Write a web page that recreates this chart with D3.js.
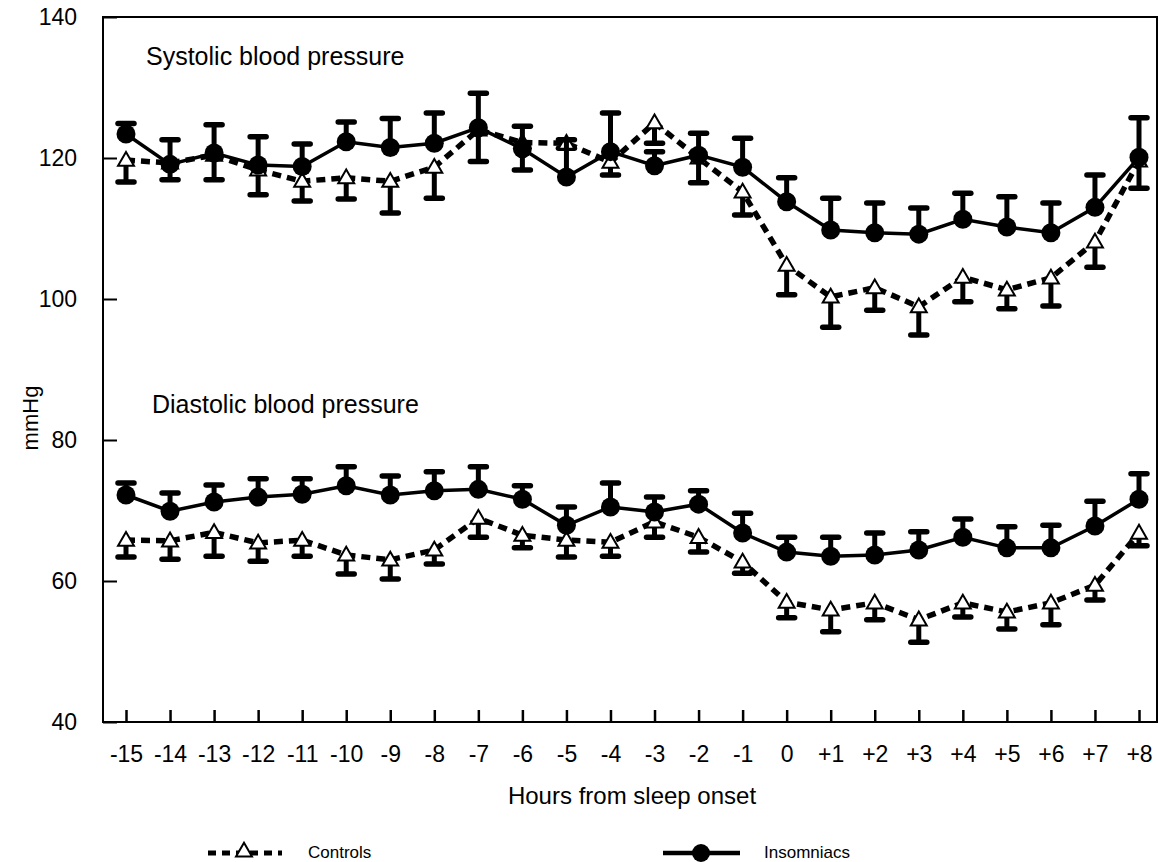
<!DOCTYPE html>
<html>
<head>
<meta charset="utf-8">
<script src="https://cdn.jsdelivr.net/npm/d3@7"></script>
<style>
  body { margin: 0; background: #fff; }
  svg { font-family: Arial, "Liberation Sans", sans-serif; }
</style>
</head>
<body>
<svg id="chart" width="1166" height="862"></svg>
<script>
// hours from sleep onset
var hours = [-15, -14, -13, -12, -11, -10, -9, -8, -7, -6, -5, -4, -3, -2, -1, 0, 1, 2, 3, 4, 5, 6, 7, 8];
var yTicks = [40, 60, 80, 100, 120, 140];

// systolic, insomniacs (mean, SE drawn upward)
var sysInsomniacs = [123.4, 119.1, 120.7, 119.0, 118.8, 122.3, 121.5, 122.1, 124.3, 121.3, 117.3, 120.9, 118.9, 120.4, 118.7, 113.8, 109.8, 109.4, 109.2, 111.3, 110.2, 109.4, 113.0, 120.1];
var sysInsomniacsSE = [1.5, 3.5, 4.0, 4.0, 3.2, 2.8, 4.1, 4.3, 4.9, 3.2, 5.3, 5.5, 2.0, 3.1, 4.1, 3.4, 4.5, 4.2, 3.7, 3.7, 4.3, 4.2, 4.6, 5.6];
// systolic, controls (mean, SE drawn downward)
var sysControls = [119.7, 119.3, 120.4, 118.3, 116.7, 117.2, 116.7, 118.7, 124.0, 122.2, 122.1, 119.4, 125.0, 120.0, 115.2, 104.8, 100.3, 101.6, 98.9, 103.1, 101.3, 103.0, 108.1, 119.6];
var sysControlsSE = [3.1, 2.4, 3.5, 3.5, 2.8, 3.0, 4.5, 4.4, 4.5, 3.9, 0.7, 1.8, 2.9, 3.5, 3.3, 4.2, 4.3, 3.2, 4.0, 3.5, 2.7, 4.0, 3.6, 3.9];

// diastolic
var diaInsomniacs = [72.2, 69.9, 71.2, 71.9, 72.3, 73.5, 72.2, 72.8, 73.0, 71.6, 67.9, 70.5, 69.8, 70.9, 66.8, 64.1, 63.5, 63.7, 64.4, 66.2, 64.7, 64.7, 67.8, 71.6];
var diaInsomniacsSE = [1.7, 2.6, 2.4, 2.6, 2.2, 2.7, 2.7, 2.7, 3.2, 1.9, 2.6, 3.4, 2.1, 1.9, 2.8, 2.1, 2.7, 3.1, 2.6, 2.6, 3.0, 3.2, 3.5, 3.6];
var diaControls = [65.8, 65.7, 66.9, 65.4, 65.8, 63.7, 63.0, 64.4, 68.9, 66.5, 65.8, 65.5, 68.4, 66.2, 62.7, 57.0, 55.9, 56.9, 54.5, 56.9, 55.6, 56.9, 59.4, 66.8];
var diaControlsSE = [2.4, 2.6, 3.4, 2.6, 2.3, 2.7, 2.7, 2.0, 2.7, 1.8, 2.4, 2.0, 2.2, 2.1, 1.6, 2.2, 3.1, 2.4, 3.2, 2.0, 2.4, 3.1, 2.1, 1.8];

var svg = d3.select("#chart");
// plot box (note: "top" is reserved on window, so prefixed names)
var boxLeft = 103, boxRight = 1157, boxTop = 17, boxBottom = 722;

var x = d3.scaleLinear().domain([-15, 8]).range([126, 1139]);
var y = d3.scaleLinear().domain([40, 140]).range([boxBottom, boxTop]);

// frame
svg.append("rect")
    .attr("x", boxLeft).attr("y", boxTop)
    .attr("width", boxRight - boxLeft).attr("height", boxBottom - boxTop)
    .attr("fill", "none").attr("stroke", "#000").attr("stroke-width", 2);

// y axis: inward ticks, labels on the left
var yAxis = d3.axisLeft(y).tickValues(yTicks).tickSize(-14).tickPadding(26);
var gy = svg.append("g").attr("transform", "translate(" + boxLeft + ",0)").call(yAxis);
gy.select(".domain").remove();
gy.selectAll(".tick line").attr("stroke-width", 2);
gy.selectAll(".tick text").attr("font-size", 23).attr("font-family", "Arial, 'Liberation Sans', sans-serif").attr("fill", "#000");

// x axis: inward ticks
var xAxis = d3.axisBottom(x).tickValues(hours).tickSize(-12).tickPadding(24)
    .tickFormat(function (d) { return d > 0 ? "+" + d : String(d); });
var gx = svg.append("g").attr("transform", "translate(0," + boxBottom + ")").call(xAxis);
gx.select(".domain").remove();
gx.selectAll(".tick line").attr("stroke-width", 2.5);
gx.selectAll(".tick text").attr("font-size", 23).attr("font-family", "Arial, 'Liberation Sans', sans-serif").attr("fill", "#000");

// axis titles
svg.append("text").attr("x", 632).attr("y", 804).attr("text-anchor", "middle")
    .attr("font-size", 24).text("Hours from sleep onset");
svg.append("text").attr("transform", "translate(38,418) rotate(-90)").attr("text-anchor", "middle")
    .attr("font-size", 22).text("mmHg");

svg.append("text").attr("x", 146).attr("y", 65).attr("font-size", 25).text("Systolic blood pressure");
svg.append("text").attr("x", 152).attr("y", 413).attr("font-size", 25).text("Diastolic blood pressure");

var line = d3.line().x(function (d) { return x(d.h); }).y(function (d) { return y(d.v); });

function toPoints(vals, se, dir) {
    return hours.map(function (h, i) { return { h: h, v: vals[i], e: vals[i] + dir * se[i] }; });
}

function errorBars(g, pts) {
    g.selectAll(null).data(pts).enter().append("line")
        .attr("x1", function (d) { return x(d.h); }).attr("x2", function (d) { return x(d.h); })
        .attr("y1", function (d) { return y(d.v); }).attr("y2", function (d) { return y(d.e); })
        .attr("stroke", "#000").attr("stroke-width", 5);
    g.selectAll(null).data(pts).enter().append("line")
        .attr("x1", function (d) { return x(d.h) - 8; }).attr("x2", function (d) { return x(d.h) + 8; })
        .attr("y1", function (d) { return y(d.e); }).attr("y2", function (d) { return y(d.e); })
        .attr("stroke", "#000").attr("stroke-width", 5.5).attr("stroke-linecap", "round");
}

var tri = d3.symbol().type(d3.symbolTriangle).size(110);

function drawControls(vals, se) {
    var pts = toPoints(vals, se, -1);
    var g = svg.append("g");
    errorBars(g, pts);
    g.append("path").datum(pts).attr("d", line).attr("fill", "none")
        .attr("stroke", "#000").attr("stroke-width", 5.5).attr("stroke-dasharray", "9,6");
    g.selectAll(null).data(pts).enter().append("path")
        .attr("d", tri)
        .attr("transform", function (d) { return "translate(" + x(d.h) + "," + (y(d.v) + 1) + ")"; })
        .attr("fill", "#fff").attr("stroke", "#000").attr("stroke-width", 2);
}

function drawInsomniacs(vals, se) {
    var pts = toPoints(vals, se, 1);
    var g = svg.append("g");
    errorBars(g, pts);
    g.append("path").datum(pts).attr("d", line).attr("fill", "none")
        .attr("stroke", "#000").attr("stroke-width", 3.5);
    g.selectAll(null).data(pts).enter().append("circle")
        .attr("cx", function (d) { return x(d.h); }).attr("cy", function (d) { return y(d.v); })
        .attr("r", 9.5).attr("fill", "#000");
}

drawControls(sysControls, sysControlsSE);
drawControls(diaControls, diaControlsSE);
drawInsomniacs(sysInsomniacs, sysInsomniacsSE);
drawInsomniacs(diaInsomniacs, diaInsomniacsSE);

// legend
var leg = svg.append("g");
leg.append("line").attr("x1", 208).attr("x2", 282).attr("y1", 853).attr("y2", 853)
    .attr("stroke", "#000").attr("stroke-width", 5).attr("stroke-dasharray", "8,6");
leg.append("path").attr("d", tri).attr("transform", "translate(244,852)")
    .attr("fill", "#fff").attr("stroke", "#000").attr("stroke-width", 2);
leg.append("text").attr("x", 308).attr("y", 858).attr("font-size", 17).text("Controls");
leg.append("line").attr("x1", 663).attr("x2", 740).attr("y1", 853).attr("y2", 853)
    .attr("stroke", "#000").attr("stroke-width", 4.5);
leg.append("circle").attr("cx", 701).attr("cy", 853).attr("r", 9).attr("fill", "#000");
leg.append("text").attr("x", 764).attr("y", 858).attr("font-size", 17).text("Insomniacs");
</script>
</body>
</html>
